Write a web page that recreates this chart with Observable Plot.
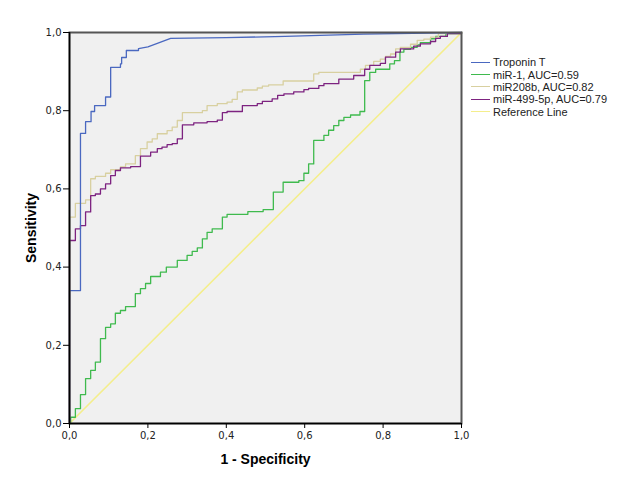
<!DOCTYPE html>
<html>
<head>
<meta charset="utf-8">
<script src="https://cdn.jsdelivr.net/npm/d3@7"></script>
<script src="https://cdn.jsdelivr.net/npm/@observablehq/plot@0.6"></script>
<style>
  body { margin: 0; background: #fff; }
  #wrap { position: relative; width: 626px; height: 501px; }
  #wrap svg { font-family: "DejaVu Sans", sans-serif; }
  #wrap svg [aria-label="x-axis label"] text, #wrap svg [aria-label="y-axis label"] text,
  #wrap svg [aria-label="x-axis label"], #wrap svg [aria-label="y-axis label"] {
    font-family: "Liberation Sans", Arial, sans-serif; font-weight: bold; font-size: 14px; fill: #000;
  }
  #legend { position: absolute; left: 471px; top: 56px; font-family: "Liberation Sans", Arial, sans-serif; font-size: 11px; color: #222; }
  #legend .row { display: flex; align-items: center; height: 12.4px; }
  #legend .sw { width: 19px; height: 0; border-top: 1.5px solid; margin-right: 3px; }
</style>
</head>
<body>
<div id="wrap"></div>
<script>
// Series names and colours
const seriesNames = ["Troponin T", "miR-1, AUC=0.59", "miR208b, AUC=0.82", "miR-499-5p, AUC=0.79", "Reference Line"];
const seriesColors = ["#4a68c0", "#3fba4e", "#d8d0a0", "#7d2380", "#f4ee8c"];

// Tick values
const tickValues = [0, 0.2, 0.4, 0.6, 0.8, 1.0];

// Troponin T (1 - specificity, sensitivity) vertices
const tropX = [0, 0, 0.028, 0.028, 0.041, 0.041, 0.055, 0.055, 0.064, 0.064, 0.092, 0.092, 0.105, 0.105, 0.130, 0.130, 0.133, 0.133, 0.145, 0.145, 0.176, 0.176, 0.200, 0.224, 0.258, 0.40, 0.55, 0.75, 1];
const tropY = [0, 0.34, 0.34, 0.742, 0.742, 0.772, 0.772, 0.798, 0.798, 0.813, 0.813, 0.835, 0.835, 0.911, 0.911, 0.92, 0.92, 0.936, 0.936, 0.954, 0.954, 0.959, 0.963, 0.972, 0.985, 0.987, 0.990, 0.996, 1];

// miR-1 steps: at x, sensitivity rises to y
const mir1X = [0, 0.003, 0.015, 0.028, 0.041, 0.054, 0.066, 0.079, 0.092, 0.105, 0.117, 0.130, 0.143, 0.168, 0.181, 0.194, 0.207, 0.232, 0.247, 0.275, 0.300, 0.313, 0.326, 0.339, 0.351, 0.364, 0.390, 0.402, 0.455, 0.494, 0.520, 0.545, 0.585, 0.598, 0.610, 0.623, 0.649, 0.661, 0.674, 0.687, 0.700, 0.717, 0.741, 0.753, 0.766, 0.781, 0.817, 0.829, 0.843, 0.853, 0.870, 0.887, 0.895, 0.921, 0.934, 0.960, 1];
const mir1Y = [0, 0.016, 0.038, 0.074, 0.115, 0.136, 0.157, 0.217, 0.246, 0.255, 0.282, 0.289, 0.299, 0.332, 0.345, 0.358, 0.376, 0.387, 0.400, 0.417, 0.430, 0.440, 0.449, 0.472, 0.489, 0.498, 0.528, 0.535, 0.542, 0.547, 0.592, 0.617, 0.621, 0.640, 0.664, 0.724, 0.737, 0.750, 0.762, 0.775, 0.783, 0.789, 0.798, 0.877, 0.898, 0.906, 0.920, 0.928, 0.950, 0.957, 0.962, 0.968, 0.974, 0.984, 0.990, 0.997, 1];

// miR208b steps
const mir208X = [0, 0.015, 0.041, 0.054, 0.066, 0.092, 0.105, 0.130, 0.143, 0.168, 0.181, 0.198, 0.211, 0.224, 0.249, 0.262, 0.275, 0.288, 0.339, 0.351, 0.377, 0.402, 0.415, 0.428, 0.441, 0.479, 0.492, 0.508, 0.545, 0.623, 0.636, 0.742, 0.755, 0.776, 0.793, 0.806, 0.819, 0.832, 0.844, 0.870, 0.887, 0.904, 0.921, 0.941, 1];
const mir208Y = [0.528, 0.563, 0.572, 0.626, 0.632, 0.640, 0.649, 0.656, 0.664, 0.685, 0.703, 0.720, 0.728, 0.741, 0.749, 0.758, 0.775, 0.795, 0.800, 0.813, 0.818, 0.822, 0.829, 0.848, 0.853, 0.858, 0.863, 0.866, 0.876, 0.894, 0.898, 0.906, 0.916, 0.926, 0.932, 0.939, 0.945, 0.958, 0.962, 0.970, 0.980, 0.983, 0.988, 0.997, 1];

// miR-499-5p steps
const mir499X = [0, 0.015, 0.028, 0.041, 0.054, 0.066, 0.079, 0.092, 0.105, 0.117, 0.130, 0.156, 0.181, 0.207, 0.224, 0.236, 0.249, 0.262, 0.275, 0.288, 0.317, 0.351, 0.377, 0.390, 0.402, 0.441, 0.479, 0.492, 0.517, 0.531, 0.547, 0.572, 0.598, 0.610, 0.636, 0.649, 0.687, 0.725, 0.753, 0.766, 0.793, 0.806, 0.832, 0.844, 0.878, 0.895, 0.921, 0.934, 0.946, 0.964, 1];
const mir499Y = [0.468, 0.498, 0.506, 0.541, 0.583, 0.587, 0.600, 0.613, 0.634, 0.647, 0.654, 0.657, 0.684, 0.694, 0.703, 0.707, 0.713, 0.716, 0.728, 0.764, 0.769, 0.772, 0.776, 0.795, 0.798, 0.813, 0.818, 0.824, 0.830, 0.839, 0.843, 0.848, 0.854, 0.857, 0.864, 0.869, 0.881, 0.890, 0.906, 0.916, 0.921, 0.937, 0.950, 0.958, 0.965, 0.971, 0.977, 0.985, 0.990, 0.997, 1];

// Reference line
const refX = [0, 1];
const refY = [0, 1];

function toRows(xs, ys, lead0) {
  const rows = xs.map((x, i) => ({x, y: ys[i]}));
  if (lead0) rows.unshift({x: 0, y: 0});
  return rows;
}
const tropRows = toRows(tropX, tropY);
const mir1Rows = toRows(mir1X, mir1Y);
const mir208Rows = toRows(mir208X, mir208Y, true);
const mir499Rows = toRows(mir499X, mir499Y, true);
const refRows = toRows(refX, refY);

const fmt = d => d.toFixed(1).replace(".", ",");

const chart = Plot.plot({
  width: 626,
  height: 501,
  marginLeft: 69,
  marginRight: 165,
  marginTop: 32,
  marginBottom: 78,
  style: {fontFamily: "DejaVu Sans, sans-serif", fontSize: "10px", color: "#222", background: "transparent"},
  x: {domain: [0, 1]},
  y: {domain: [0, 1]},
  marks: [
    Plot.frame({fill: "#f0f0f0", stroke: "none"}),
    Plot.line(refRows, {x: "x", y: "y", stroke: seriesColors[4], strokeWidth: 1.6}),
    Plot.line(mir1Rows, {x: "x", y: "y", stroke: seriesColors[1], strokeWidth: 1.3, curve: "step-after"}),
    Plot.line(mir208Rows, {x: "x", y: "y", stroke: seriesColors[2], strokeWidth: 1.3, curve: "step-after"}),
    Plot.line(mir499Rows, {x: "x", y: "y", stroke: seriesColors[3], strokeWidth: 1.3, curve: "step-after"}),
    Plot.line(tropRows, {x: "x", y: "y", stroke: seriesColors[0], strokeWidth: 1.3}),
    Plot.frame({stroke: "#555", strokeWidth: 2}),
    Plot.ruleX([0], {stroke: "#000", strokeWidth: 1.5}),
    Plot.ruleY([0], {stroke: "#000", strokeWidth: 1.5}),
    Plot.axisX({ticks: tickValues, tickFormat: fmt, tickSize: 5, tickPadding: 3, stroke: "#000",
      label: "1 - Specificity", labelAnchor: "center", labelArrow: false, labelOffset: 40}),
    Plot.axisY({ticks: tickValues, tickFormat: fmt, tickSize: 6, tickPadding: 2, stroke: "#000",
      label: "Sensitivity", labelAnchor: "center", labelArrow: false, labelOffset: 43})
  ]
});

const wrap = document.getElementById("wrap");
wrap.appendChild(chart);

const legend = document.createElement("div");
legend.id = "legend";
seriesNames.forEach((name, i) => {
  const row = document.createElement("div");
  row.className = "row";
  const sw = document.createElement("span");
  sw.className = "sw";
  sw.style.borderTopColor = seriesColors[i];
  const t = document.createElement("span");
  t.textContent = name;
  row.appendChild(sw);
  row.appendChild(t);
  legend.appendChild(row);
});
wrap.appendChild(legend);
</script>
</body>
</html>
